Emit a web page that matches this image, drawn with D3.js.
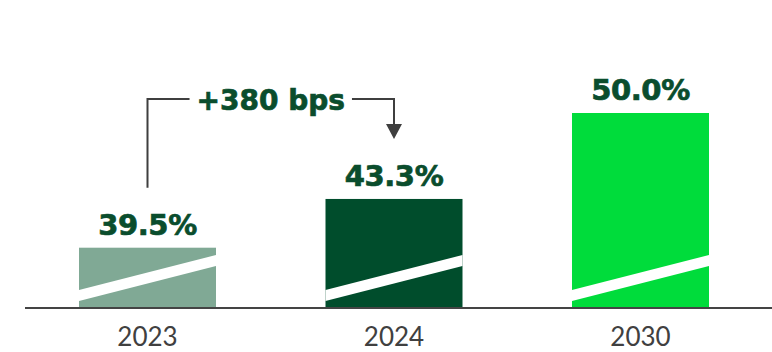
<!DOCTYPE html>
<html>
<head>
<meta charset="utf-8">
<script src="https://cdn.jsdelivr.net/npm/d3@7"></script>
<style>
  html, body { margin: 0; padding: 0; background: #fff; }
  svg { display: block; }
</style>
</head>
<body>
<svg id="chart" width="772" height="352"></svg>
<script>
// Share by year
const years = ["2023", "2024", "2030"];
const shares = [39.5, 43.3, 50.0];
const valueLabels = ["39.5%", "43.3%", "50.0%"];
const barColors = ["#80a995", "#004d2c", "#00dc3b"];
const changeNote = { from: "2023", to: "2024", text: "+380 bps" };

const W = 772, H = 352;
const baseY = 308;
const svg = d3.select("#chart");

const x = d3.scaleBand()
  .domain(years)
  .range([79, 709])
  .paddingInner(0.4442)
  .paddingOuter(0);

// truncated value axis (broken at the bottom of each bar)
const y = d3.scaleLinear()
  .domain([34.8, 50])
  .range([baseY, 113]);

const data = years.map((yr, i) => ({ year: yr, value: shares[i], label: valueLabels[i], color: barColors[i] }));

// bars
const bars = svg.append("g").selectAll("g.bar")
  .data(data)
  .join("g")
  .attr("class", "bar");

bars.append("rect")
  .attr("x", d => x(d.year))
  .attr("y", d => y(d.value))
  .attr("width", x.bandwidth())
  .attr("height", d => baseY - y(d.value))
  .attr("fill", d => d.color);

// white slanted break stripe near the base
bars.append("path")
  .attr("fill", "#fff")
  .attr("d", d => {
    const x0 = x(d.year), x1 = x0 + x.bandwidth();
    return `M${x0},${baseY - 18}L${x1},${baseY - 53}L${x1},${baseY - 42}L${x0},${baseY - 7}Z`;
  });

// value labels
bars.append("text")
  .attr("x", d => x(d.year) + x.bandwidth() / 2)
  .attr("y", d => y(d.value) - 13)
  .attr("text-anchor", "middle")
  .attr("font-family", "DejaVu Sans, sans-serif")
  .attr("font-weight", "bold")
  .attr("font-size", 29)
  .attr("letter-spacing", -0.4)
  .attr("fill", "#0a4d2d")
  .attr("stroke", "#0a4d2d")
  .attr("stroke-width", 0.7)
  .text(d => d.label);

// baseline
svg.append("line")
  .attr("x1", 25).attr("x2", W)
  .attr("y1", baseY).attr("y2", baseY)
  .attr("stroke", "#444").attr("stroke-width", 2);

// category axis
const xAxis = d3.axisBottom(x).tickSize(0).tickPadding(20);
const gx = svg.append("g")
  .attr("transform", `translate(0,${baseY})`)
  .call(xAxis);
gx.select(".domain").remove();
gx.selectAll("text")
  .attr("font-family", "Lato, sans-serif")
  .attr("font-size", 26)
  .attr("fill", "#404040")
  .attr("dy", "0.71em");

// change bracket between the first two years
const lineColor = "#3f3f3f";
const bracketY = 99;
const xa = x(changeNote.from) + x.bandwidth() / 2;
const xb = x(changeNote.to) + x.bandwidth() / 2;
const fromVal = shares[years.indexOf(changeNote.from)];
const toVal = shares[years.indexOf(changeNote.to)];
const startY = y(fromVal) - 60;
const tipY = y(toVal) - 60;

const note = svg.append("g");
const noteText = note.append("text")
  .attr("x", (xa + xb) / 2)
  .attr("y", bracketY + 11)
  .attr("text-anchor", "middle")
  .attr("font-family", "DejaVu Sans, sans-serif")
  .attr("font-weight", "bold")
  .attr("font-size", 28)
  .attr("fill", "#0a4d2d")
  .attr("stroke", "#0a4d2d")
  .attr("stroke-width", 0.7)
  .text(changeNote.text);

const bb = noteText.node().getBBox();
const gap = 7;

note.append("path")
  .attr("fill", "none")
  .attr("stroke", lineColor)
  .attr("stroke-width", 2)
  .attr("d", `M${xa},${startY}V${bracketY}H${bb.x - gap}`);

note.append("path")
  .attr("fill", "none")
  .attr("stroke", lineColor)
  .attr("stroke-width", 2)
  .attr("d", `M${bb.x + bb.width + gap},${bracketY}H${xb}V${tipY - 14}`);

note.append("path")
  .attr("fill", lineColor)
  .attr("d", `M${xb - 8},${tipY - 15}L${xb + 8},${tipY - 15}L${xb},${tipY}Z`);
</script>
</body>
</html>
